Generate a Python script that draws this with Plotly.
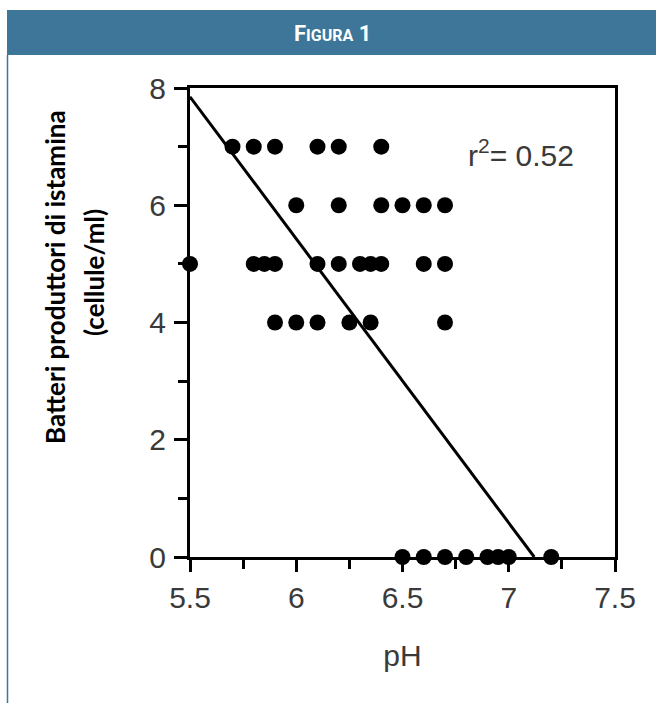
import plotly.graph_objects as go

# ---- data ----
ph = [5.7, 5.8, 5.9, 6.1, 6.2, 6.4,
      6.0, 6.2, 6.4, 6.5, 6.6, 6.7,
      5.5, 5.8, 5.85, 5.9, 6.1, 6.2, 6.3, 6.35, 6.4, 6.6, 6.7,
      5.9, 6.0, 6.1, 6.25, 6.35, 6.7,
      6.5, 6.6, 6.7, 6.8, 6.9, 6.95, 7.0, 7.2]
cells = [7, 7, 7, 7, 7, 7,
         6, 6, 6, 6, 6, 6,
         5, 5, 5, 5, 5, 5, 5, 5, 5, 5, 5,
         4, 4, 4, 4, 4, 4,
         0, 0, 0, 0, 0, 0, 0, 0]
fit_ph = [5.5, 7.12]
fit_cells = [7.85, 0.0]
x_ticks = [5.5, 6, 6.5, 7, 7.5]
x_tick_labels = ["5.5", "6", "6.5", "7", "7.5"]
y_ticks = [0, 2, 4, 6, 8]
y_tick_labels = ["0", "2", "4", "6", "8"]
r2_text = "r<sup>2</sup>= 0.52"

W, H = 656, 703
L, R, T, B = 190, 615, 88, 557  # plot area in pixels


def px(x):
    return (x - L) / (R - L)


def py(y):
    return (B - y) / (B - T)


fig = go.Figure()
fig.add_trace(go.Scatter(x=fit_ph, y=fit_cells, mode="lines",
                         line=dict(color="black", width=3),
                         hoverinfo="skip", showlegend=False, cliponaxis=False))
fig.add_trace(go.Scatter(x=ph, y=cells, mode="markers",
                         marker=dict(color="black", size=16, line=dict(width=0)),
                         showlegend=False, cliponaxis=False))

tick_font = dict(family="Liberation Sans, Arial, sans-serif", size=30, color="#3a3a3a")

fig.update_layout(
    width=W, height=H,
    margin=dict(l=L, r=W - R, t=T, b=H - B, pad=0),
    paper_bgcolor="white", plot_bgcolor="white",
    xaxis=dict(range=[5.5, 7.5], tickvals=x_ticks, ticktext=x_tick_labels,
               showgrid=False, zeroline=False, showline=True, linecolor="black",
               linewidth=3, mirror=True, ticks="outside", ticklen=12, tickwidth=2.5,
               tickcolor="black", tickfont=tick_font, ticklabelstandoff=0,
               minor=dict(dtick=0.25, tick0=5.5, ticks="outside", ticklen=9,
                          tickwidth=2.5, tickcolor="black", showgrid=False),
               title=dict(text="pH", font=tick_font, standoff=32)),
    yaxis=dict(range=[0, 8], tickvals=y_ticks, ticktext=y_tick_labels,
               showgrid=False, zeroline=False, showline=True, linecolor="black",
               linewidth=3, mirror=True, ticks="outside", ticklen=13, tickwidth=2.5,
               tickcolor="black", tickfont=tick_font, ticklabelstandoff=2,
               minor=dict(dtick=1, tick0=0, ticks="outside", ticklen=9,
                          tickwidth=2.5, tickcolor="black", showgrid=False)),
    shapes=[
        dict(type="rect", xref="paper", yref="paper",
             x0=px(7), x1=px(W), y0=py(55), y1=py(10),
             fillcolor="#3e7699", line=dict(width=0), layer="above"),
        dict(type="line", xref="paper", yref="paper",
             x0=px(7.5), x1=px(7.5), y0=py(55), y1=py(H),
             line=dict(color="#3e7699", width=1.5), layer="above"),
    ],
    annotations=[
        dict(text="F<span style='font-size:16px'>IGURA</span> 1",
             xref="paper", yref="paper", x=px(332), y=py(33),
             xanchor="center", yanchor="middle", showarrow=False,
             font=dict(family="Roboto", size=22, color="white", weight="bold")),
        dict(text="Batteri produttori di istamina",
             xref="paper", yref="paper", x=px(55), y=py(277), textangle=-90,
             xanchor="center", yanchor="middle", showarrow=False,
             font=dict(family="Lato", size=26, color="black", weight="bold")),
        dict(text="(cellule/ml)",
             xref="paper", yref="paper", x=px(94), y=py(273), textangle=-90,
             xanchor="center", yanchor="middle", showarrow=False,
             font=dict(family="Lato", size=26, color="black", weight="bold")),
        dict(text=r2_text, xref="paper", yref="paper", x=px(521), y=py(153),
             xanchor="center", yanchor="middle", showarrow=False,
             font=tick_font),
    ],
)

fig.write_html("out.html", config={"displayModeBar": False},
               post_script="document.body.style.margin='0';document.body.style.overflow='hidden';")
